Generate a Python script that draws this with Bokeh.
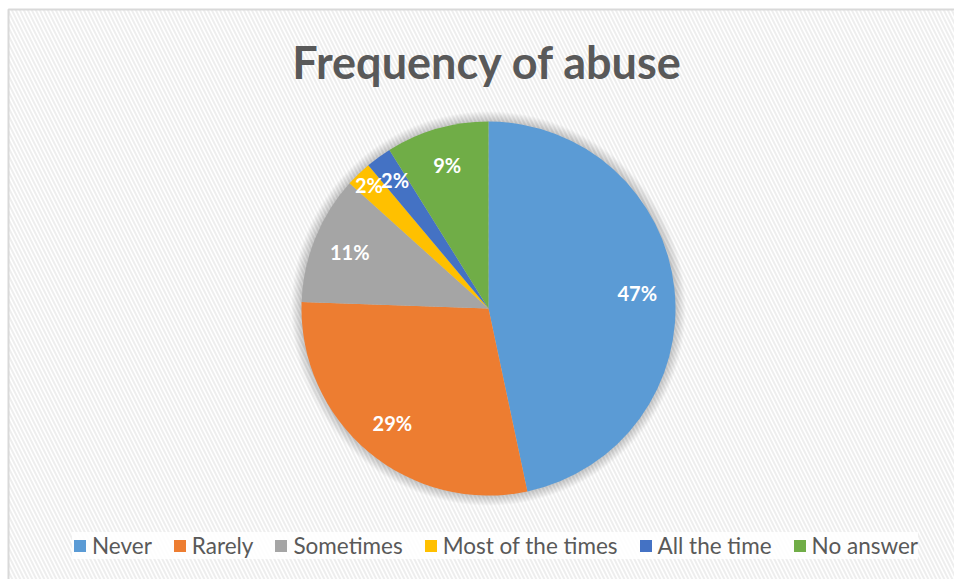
import numpy as np
from bokeh.plotting import figure
from bokeh.models import Range1d, Legend, LegendItem, ColumnDataSource
from bokeh.embed import file_html
from bokeh.resources import INLINE
from bokeh.core.properties import value

# ---- data ----
categories = ["Never", "Rarely", "Sometimes", "Most of the times", "All the time", "No answer"]
counts = [21, 13, 5, 1, 1, 4]
colors = ["#5B9BD5", "#ED7D31", "#A5A5A5", "#FFC000", "#4472C4", "#70AD47"]
title_text = "Frequency of abuse"

# ---- layout / style ----
W, H = 954, 579
CX, CY, R = 488, H - 308, 187
FONT = "Lato"
label_radius = [0.8, 0.8, 0.8, 0.92, 0.85, 0.8]

total = sum(counts)
frac = np.array(counts) / total
cum = np.concatenate([[0], np.cumsum(frac)])
start = np.pi / 2 - 2 * np.pi * cum[:-1]
end = np.pi / 2 - 2 * np.pi * cum[1:]
mid = (start + end) / 2
pct = [f"{int(round(100 * f))}%" for f in frac]

p = figure(width=W, height=H, output_backend="svg", toolbar_location=None,
           x_range=Range1d(0, W), y_range=Range1d(0, H), min_border=0)
p.xaxis.visible = False
p.yaxis.visible = False
p.grid.visible = False
p.outline_line_color = None
p.background_fill_color = "white"
p.border_fill_color = "white"

# chart area with diagonal stripes
p.quad(left=8, right=W + 10, bottom=-10, top=H - 9, fill_color="white",
       hatch_pattern="left_diagonal_line", hatch_color="#eeeeee", hatch_scale=8,
       hatch_weight=2, line_color="#d9d9d9", line_width=2)

# soft shadow
shadow_r = [R + k for k in range(10, 0, -1)]
p.circle(x=[CX] * len(shadow_r), y=[CY] * len(shadow_r), radius=shadow_r,
         fill_color="black", fill_alpha=0.02, line_color=None)

src = ColumnDataSource(dict(cat=categories, start=start, end=end, color=colors))
wr = p.wedge(x=CX, y=CY, radius=R, start_angle="start", end_angle="end",
             direction="clock", fill_color="color", line_color=None, source=src)

lr = np.array(label_radius) * R
lx = CX + lr * np.cos(mid)
ly = CY + lr * np.sin(mid)
p.text(x=lx, y=ly, text=pct, text_font=value(FONT), text_font_style="bold",
       text_font_size="20px", text_color="white", text_align="center",
       text_baseline="middle")

p.text(x=[CX - 1], y=[H - 61], text=[title_text], text_font=value(FONT),
       text_font_style="bold", text_font_size="45px", text_color="#595959",
       text_align="center", text_baseline="middle")

items = [LegendItem(label=c, renderers=[wr], index=i) for i, c in enumerate(categories)]
legend = Legend(items=items, orientation="horizontal", location=(72, 20),
                label_text_font=FONT, label_text_font_size="22.5px",
                label_text_color="#595959", glyph_width=15, glyph_height=15,
                spacing=20, label_standoff=5, padding=12, margin=0,
                background_fill_color="white", background_fill_alpha=0.85,
                border_line_color=None)
p.add_layout(legend)

open("out.html", "w").write(file_html(p, INLINE))
